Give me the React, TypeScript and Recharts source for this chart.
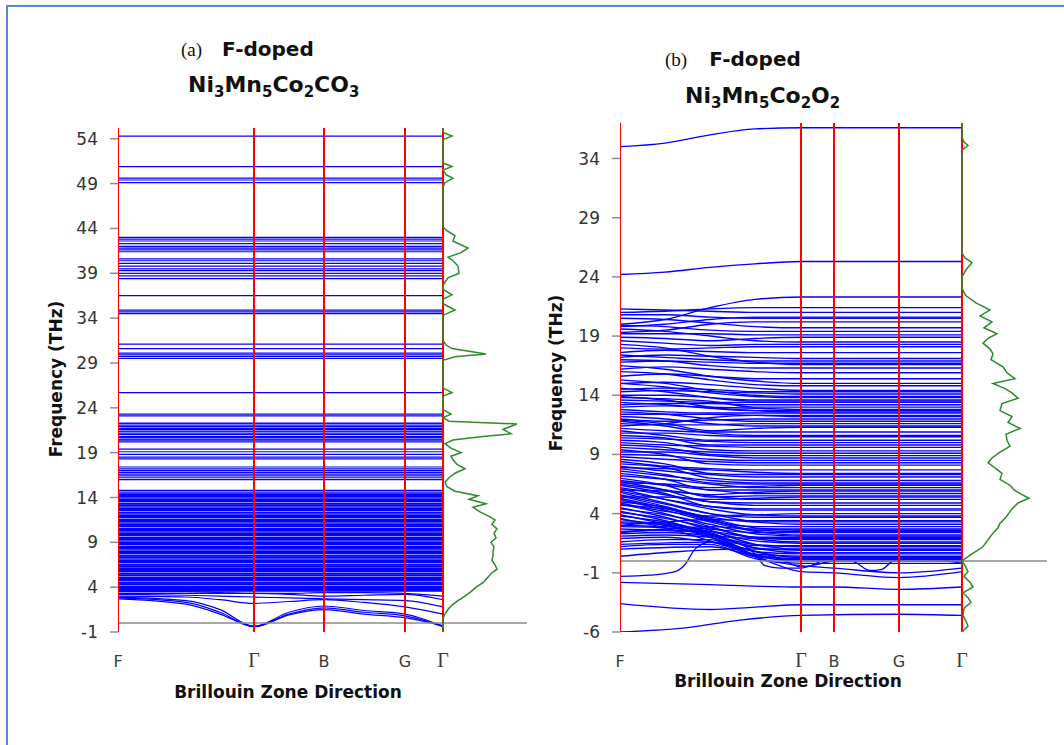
import React from 'react';
import { ComposedChart, Line, XAxis, YAxis } from 'recharts';

// high-symmetry points along the k-path (path distance) and their labels
const kLabels = ['F', 'Γ', 'B', 'G', 'Γ'];
const kNodesA = [0, 136, 206, 287, 325];
const kNodesB = [0, 181, 214, 279, 342];

const yTicksA = [-1, 4, 9, 14, 19, 24, 29, 34, 39, 44, 49, 54];
const yTicksB = [-6, -1, 4, 9, 14, 19, 24, 29, 34];

// ---- panel (a) ----
// nearly dispersionless optical branches (THz)
const flatA = [
  54.3, 50.9, 49.6, 49.4, 49.1, 43.0, 42.8, 42.6, 42.3, 42.0, 41.8, 41.6, 41.4,
  40.6, 40.4, 40.1, 39.8, 39.5, 39.3, 39.0, 38.7, 38.4, 36.5, 34.9, 34.7, 34.5,
  31.1, 30.6, 30.1, 29.9, 29.7, 29.5, 25.7, 23.3, 23.1, 22.3, 22.2, 22.0, 21.9,
  21.7, 21.6, 21.4, 21.3, 21.1, 21.0, 20.8, 20.7, 20.5, 20.4, 20.2, 19.4, 19.1,
  18.8, 18.5, 18.3, 17.4, 17.2, 17.0, 16.8, 16.6, 16.4, 16.2, 16.0, 14.8, 14.6, 14.4,
];
// the packed block between ~3.5 and ~14.3 THz
const denseA = [
  14.3, 14.1, 13.8, 13.6, 13.3, 13.1, 12.8, 12.6, 12.3, 12.0, 11.8, 11.5, 11.3,
  11.0, 10.8, 10.5, 10.3, 10.0, 9.8, 9.5, 9.3, 9.0, 8.8, 8.5, 8.3, 8.0, 7.8, 7.5,
  7.3, 7.0, 6.8, 6.5, 6.3, 6.0, 5.8, 5.5, 5.3, 5.0, 4.8, 4.5, 4.3, 4.0, 3.8, 3.6,
];
// dispersive low branches, sampled at lowPathA
const lowPathA = [0, 68, 102, 136, 171, 206, 246, 287, 325];
const lowBandsA = [
  [2.9, 2.5, 1.5, -0.35, 1.2, 1.9, 1.4, 1.0, -0.35],
  [2.8, 2.3, 1.2, -0.4, 1.0, 1.7, 1.2, 0.8, -0.4],
  [2.7, 2.1, 1.0, -0.4, 0.9, 1.5, 1.0, 0.6, -0.3],
  [3.0, 2.9, 2.6, 2.2, 2.4, 2.6, 2.3, 1.8, 1.0],
  [3.2, 3.1, 3.0, 2.9, 2.8, 2.7, 2.6, 2.5, 1.8],
  [3.3, 3.3, 3.3, 3.3, 3.2, 3.0, 3.1, 3.2, 2.6],
  [3.5, 3.5, 3.4, 3.3, 3.3, 3.4, 3.4, 3.3, 3.0],
];
// density of states: [frequency, DOS]
const dosA = [
  [55.2, 0], [54.7, 0], [54.3, 9], [53.9, 0], [51.3, 0], [50.9, 9], [50.5, 0],
  [50.0, 3], [49.6, 10], [49.1, 2], [48.6, 0], [44.2, 0], [43.8, 3], [43.2, 12],
  [42.6, 10], [41.8, 25], [41.3, 18], [40.8, 5], [40.4, 10], [39.8, 15], [39.0, 16],
  [38.5, 5], [38.0, 2], [37.6, 0], [37.2, 0], [36.6, 9], [36.1, 0], [35.6, 0],
  [34.9, 12], [34.3, 0], [31.5, 0], [31.0, 3], [30.6, 9], [30.0, 43], [29.7, 12],
  [29.3, 0], [26.2, 0], [25.7, 9], [25.3, 0], [23.8, 0], [23.3, 8], [22.9, 0],
  [22.5, 6], [22.2, 74], [21.6, 60], [21.1, 68], [20.8, 40], [20.4, 10], [20.0, 2],
  [19.5, 8], [19.0, 18], [18.6, 8], [18.2, 10], [17.7, 14], [17.2, 22], [16.7, 12],
  [16.2, 6], [15.7, 2], [15.2, 4], [14.7, 12], [14.2, 35], [13.8, 26], [13.3, 43],
  [12.9, 30], [12.4, 37], [11.9, 46], [11.5, 52], [11.0, 49], [10.5, 54], [10.0, 51],
  [9.5, 53], [9.0, 48], [8.5, 51], [8.0, 50], [7.5, 50], [7.0, 49], [6.5, 52],
  [6.0, 54], [5.5, 48], [5.0, 44], [4.5, 40], [4.0, 33], [3.5, 28], [3.0, 22],
  [2.5, 15], [2.0, 9], [1.5, 5], [1.0, 2], [0.5, 0], [-1, 0],
];

// ---- panel (b) ----
// branches sampled at pathB (F .. Γ), flat from Γ to the end
const pathB = [0, 45, 90, 135, 181];
const bandsB = [
  [35.0, 35.3, 36.0, 36.5, 36.6],
  [24.2, 24.4, 24.8, 25.1, 25.3],
  [20.0, 20.4, 21.4, 22.1, 22.3],
  [21.0, 21.1, 21.3, 21.4, 21.4],
  [21.3, 21.2, 21.1, 21.0, 21.0],
  [19.3, 19.5, 20.0, 20.2, 20.2],
  [20.5, 20.4, 20.1, 19.8, 19.7],
  [19.2, 19.2, 19.2, 19.1, 19.1],
  [19.6, 19.4, 19.0, 18.6, 18.5],
  [17.6, 17.8, 17.7, 17.6, 17.6],
  [17.2, 17.4, 17.3, 17.2, 17.1],
  [16.8, 16.9, 16.8, 16.7, 16.7],
  [16.2, 16.4, 16.2, 16.0, 15.9],
  [18.3, 18.0, 17.3, 16.8, 16.6],
  [15.6, 15.8, 15.6, 15.4, 15.4],
  [16.5, 16.2, 15.6, 15.2, 15.0],
  [15.0, 15.1, 14.9, 14.6, 14.4],
  [14.3, 14.4, 14.3, 14.2, 14.1],
  [15.3, 15.0, 14.4, 14.0, 13.9],
  [14.0, 14.0, 13.8, 13.6, 13.6],
  [13.6, 13.5, 13.4, 13.4, 13.4],
  [13.2, 13.3, 13.3, 13.2, 13.2],
  [13.0, 13.1, 13.0, 12.9, 12.8],
  [12.8, 12.6, 12.5, 12.5, 12.5],
  [12.4, 12.4, 12.4, 12.3, 12.3],
  [12.0, 11.8, 11.9, 12.0, 12.0],
  [11.6, 11.5, 11.5, 11.6, 11.6],
  [11.2, 11.0, 10.9, 10.9, 10.9],
  [10.8, 10.8, 10.6, 10.5, 10.5],
  [10.4, 10.3, 10.1, 10.0, 10.0],
  [10.0, 9.8, 9.7, 9.6, 9.6],
  [9.6, 9.4, 9.2, 9.1, 9.1],
  [9.2, 9.2, 8.9, 8.7, 8.7],
  [8.8, 8.6, 8.4, 8.3, 8.3],
  [8.4, 8.0, 7.8, 7.7, 7.7],
  [8.0, 7.6, 7.3, 7.1, 7.1],
  [7.6, 7.2, 6.8, 6.6, 6.6],
  [7.2, 6.9, 6.5, 6.2, 6.2],
  [6.8, 6.4, 6.0, 5.7, 5.7],
  [6.5, 6.0, 5.5, 5.2, 5.2],
  [6.2, 5.6, 5.0, 4.7, 4.7],
  [5.9, 5.2, 4.6, 4.3, 4.3],
  [5.6, 4.8, 4.0, 3.7, 3.7],
  [5.3, 4.5, 3.7, 3.3, 3.3],
  [5.0, 4.5, 3.4, 2.9, 2.9],
  [4.7, 4.4, 3.5, 2.6, 2.5],
  [4.4, 3.9, 3.1, 2.3, 2.1],
  [4.1, 3.6, 2.8, 2.0, 1.8],
  [3.8, 3.3, 2.5, 1.7, 1.5],
  [3.5, 3.0, 2.2, 1.4, 1.2],
  [3.2, 3.1, 2.4, 1.1, 0.9],
  [2.9, 2.8, 2.2, 0.8, 0.6],
  [2.5, 2.6, 2.3, 0.6, 0.4],
  [2.1, 2.2, 2.0, 0.5, 0.2],
  [1.6, 1.8, 1.8, 0.4, 0.0],
  [1.2, 1.4, 1.4, 0.2, -0.2],
  [6.6, 6.5, 6.2, 6.3, 6.4],
  [6.0, 5.9, 5.6, 5.8, 5.9],
  [5.4, 5.4, 5.2, 5.3, 5.4],
  [7.9, 7.8, 7.7, 7.5, 7.4],
  [9.0, 8.9, 8.6, 8.5, 8.5],
  [11.4, 11.6, 12.1, 12.3, 12.2],
  [13.9, 13.6, 13.0, 12.7, 12.6],
  [11.9, 11.6, 11.0, 11.2, 11.3],
  [14.6, 14.3, 13.8, 13.5, 13.5],
  [4.9, 4.2, 3.8, 3.9, 4.0],
  [3.0, 3.3, 3.5, 3.4, 3.4],
  [2.4, 2.7, 2.9, 2.7, 2.7],
  [20.8, 20.8, 20.6, 20.5, 20.5],
  [19.9, 19.8, 19.5, 19.4, 19.4],
  [18.9, 18.8, 18.6, 18.8, 18.9],
  [18.0, 17.9, 18.0, 18.1, 18.1],
  [17.0, 16.9, 16.5, 16.3, 16.3],
  [16.0, 15.8, 15.3, 14.9, 14.8],
  [15.0, 14.7, 14.2, 13.9, 13.8],
  [14.5, 14.6, 14.5, 14.3, 14.3],
  [13.8, 13.7, 13.5, 13.0, 13.0],
  [13.4, 13.2, 12.9, 12.7, 12.7],
  [12.6, 12.4, 12.0, 11.8, 11.8],
  [12.2, 12.0, 11.6, 11.4, 11.4],
  [11.8, 11.4, 10.8, 10.6, 10.6],
  [11.0, 10.6, 10.2, 10.2, 10.2],
  [10.6, 10.4, 9.8, 9.8, 9.8],
  [10.2, 10.0, 9.4, 9.3, 9.3],
  [9.8, 9.6, 9.0, 8.9, 8.9],
  [9.4, 9.0, 8.2, 8.1, 8.1],
  [8.6, 8.2, 7.4, 7.3, 7.3],
  [8.2, 7.9, 7.0, 6.8, 6.8],
  [7.8, 7.3, 6.6, 6.5, 6.5],
  [7.4, 6.9, 6.0, 6.0, 6.0],
  [7.0, 6.4, 5.4, 5.5, 5.5],
  [6.7, 6.0, 5.0, 4.9, 4.9],
  [6.4, 5.7, 4.6, 4.4, 4.4],
  [6.1, 5.2, 4.4, 3.9, 3.8],
  [5.8, 4.9, 4.0, 3.3, 3.1],
  [5.5, 4.6, 3.6, 2.8, 2.6],
  [5.2, 4.3, 3.3, 2.5, 2.2],
  [4.8, 4.0, 2.9, 1.9, 1.6],
  [4.5, 3.7, 2.6, 1.4, 1.0],
  [4.2, 3.4, 2.3, 1.1, 0.7],
  [3.9, 3.1, 2.0, 0.8, 0.3],
  [3.6, 2.8, 1.7, 0.5, 0.1],
  [3.3, 3.2, 2.2, 1.9, 1.9],
  [3.0, 2.9, 2.7, 2.4, 2.4],
  [2.7, 2.6, 2.5, 2.0, 2.0],
  [2.3, 2.4, 2.1, 1.3, 1.3],
  [1.9, 2.0, 1.6, 1.0, 1.0],
  [17.4, 17.2, 17.0, 16.9, 16.9],
  [18.6, 18.4, 18.2, 18.3, 18.3],
  [19.8, 20.0, 20.4, 20.6, 20.6],
];
// branches with structure on the Γ-B-G-Γ side: [path, THz] pairs
const specialB = [
  [[0, -1.3], [30, -1.2], [55, -0.9], [65, -0.3], [75, 1.0], [90, 1.6], [115, 1.5],
   [135, 0.6], [145, -0.4], [160, -0.6], [181, -0.6], [214, 0.3], [235, -0.1],
   [250, -0.8], [262, -0.7], [275, 0.1], [300, 0.2], [342, -0.2]],
  [[0, 0.4], [60, 0.8], [120, 1.0], [160, 0.2], [181, -0.5], [214, 0.0], [279, 0.3], [342, -0.1]],
  [[0, 1.0], [90, 1.2], [140, 0.2], [181, -0.9], [214, -1.0], [279, -1.4], [342, -0.9]],
  [[0, 1.4], [90, 1.6], [150, 0.0], [181, -0.4], [214, -0.6], [279, -1.0], [342, -0.6]],
  [[0, -1.8], [90, -2.0], [181, -2.2], [214, -2.2], [279, -2.4], [342, -2.2]],
  [[0, -3.6], [90, -4.1], [135, -3.9], [181, -3.7], [342, -3.7]],
  [[0, -6.0], [60, -5.7], [120, -5.0], [181, -4.6], [279, -4.5], [342, -4.6]],
];
const dosB = [
  [37, 0], [35.8, 0], [35.4, 2], [35.1, 6], [34.7, 0], [26.0, 0], [25.6, 3],
  [25.2, 10], [24.6, 4], [24.0, 0], [23.0, 0], [22.4, 4], [21.8, 14], [21.2, 28],
  [20.7, 18], [20.2, 30], [19.7, 22], [19.2, 35], [18.8, 26], [18.4, 21], [17.9, 28],
  [17.5, 31], [17.0, 29], [16.4, 41], [15.9, 45], [15.4, 53], [15.0, 31], [14.6, 42],
  [14.2, 50], [13.75, 56], [13.3, 40], [12.7, 38], [12.2, 50], [11.7, 46], [11.2, 58],
  [10.7, 44], [10.2, 45], [9.7, 48], [9.2, 38], [8.7, 30], [8.3, 26], [7.8, 34],
  [7.4, 40], [6.9, 38], [6.4, 48], [6.0, 52], [5.6, 60], [5.3, 67], [4.9, 56],
  [4.4, 50], [3.7, 44], [3.2, 38], [2.8, 36], [2.35, 31], [1.8, 26], [1.2, 21],
  [0.6, 10], [0, 0], [-0.4, 3], [-0.9, 6], [-1.3, 2], [-1.8, 8], [-2.2, 11],
  [-2.7, 1], [-3.1, 6], [-3.5, 9], [-4.0, 2], [-4.6, 1], [-5.1, 4], [-5.5, 6], [-6.0, 0],
];

type Pt = { x: number; y: number };
type Band = { pts: Pt[]; width: number };

const font = "'DejaVu Sans', Verdana, sans-serif";

function makeTick(nodes: number[]) {
  return (props: any) => {
    const { x, y, payload } = props;
    const i = nodes.indexOf(payload.value);
    const lab = kLabels[i] ?? '';
    const serif = lab === 'Γ';
    return (
      <text
        x={x}
        y={y + 27}
        textAnchor="middle"
        fontFamily={serif ? "'Liberation Serif', serif" : font}
        fontSize={serif ? 20 : 16}
        fill="#3a3a3a"
      >
        {lab}
      </text>
    );
  };
}

interface PanelProps {
  left: number;
  top: number;
  width: number;
  height: number;
  margin: { top: number; right: number; bottom: number; left: number };
  xMax: number;
  yDomain: [number, number];
  yTicks: number[];
  nodes: number[];
  bands: Band[];
  dos: number[][];
}

function Panel(p: PanelProps) {
  const end = p.nodes[p.nodes.length - 1];
  const dosPts = p.dos.map(([f, d]) => ({ x: end + d, y: f }));
  return (
    <div style={{ position: 'absolute', left: p.left, top: p.top }}>
      <ComposedChart width={p.width} height={p.height} margin={p.margin}>
        <XAxis
          type="number"
          dataKey="x"
          domain={[0, p.xMax]}
          ticks={p.nodes}
          interval={0}
          allowDataOverflow
          axisLine={false}
          tickLine={false}
          height={30}
          tick={makeTick(p.nodes)}
        />
        <YAxis
          type="number"
          dataKey="y"
          domain={p.yDomain}
          ticks={p.yTicks}
          interval={0}
          allowDataOverflow
          axisLine={false}
          tickLine={{ stroke: '#8c8c8c', strokeWidth: 1.5 }}
          tickSize={8}
          tickMargin={12}
          width={50}
          tick={{ fontSize: 17, fill: '#333', fontFamily: font }}
        />
        {p.bands.map((b, i) => (
          <Line
            key={'b' + i}
            data={b.pts}
            dataKey="y"
            type="monotone"
            stroke="#0000ff"
            strokeWidth={b.width}
            dot={false}
            activeDot={false}
            isAnimationActive={false}
          />
        ))}
        <Line
          data={[{ x: 0, y: 0 }, { x: p.xMax, y: 0 }]}
          dataKey="y"
          stroke="#8a8a8a"
          strokeWidth={1.5}
          dot={false}
          activeDot={false}
          isAnimationActive={false}
        />
        {p.nodes.map((n, i) => (
          <Line
            key={'k' + i}
            data={[{ x: n, y: p.yDomain[0] }, { x: n, y: p.yDomain[1] }]}
            dataKey="y"
            stroke="#ff0000"
            strokeWidth={2}
            dot={false}
            activeDot={false}
            isAnimationActive={false}
          />
        ))}
        <Line
          data={dosPts}
          dataKey="y"
          type="linear"
          stroke="#2b8a2b"
          strokeWidth={1.5}
          dot={false}
          activeDot={false}
          isAnimationActive={false}
        />
      </ComposedChart>
    </div>
  );
}

const endA = kNodesA[kNodesA.length - 1];
const endB = kNodesB[kNodesB.length - 1];

const bandsA: Band[] = [
  ...flatA.map((v) => ({ pts: [{ x: 0, y: v }, { x: endA, y: v }], width: 1.2 })),
  ...denseA.map((v) => ({ pts: [{ x: 0, y: v }, { x: endA, y: v }], width: 2.2 })),
  ...lowBandsA.map((vals) => ({ pts: vals.map((v, i) => ({ x: lowPathA[i], y: v })), width: 1.2 })),
];

const bandsBAll: Band[] = [
  ...bandsB.map((vals) => ({
    pts: [...vals.map((v, i) => ({ x: pathB[i], y: v })), { x: endB, y: vals[vals.length - 1] }],
    width: 1.4,
  })),
  ...specialB.map((pairs) => ({ pts: pairs.map(([x, y]) => ({ x, y })), width: 1.3 })),
];

const titleStyle: React.CSSProperties = {
  position: 'absolute',
  fontFamily: font,
  fontWeight: 'bold',
  color: '#111',
  whiteSpace: 'nowrap',
};

function Formula({ parts }: { parts: [string, string][] }) {
  return (
    <>
      {parts.map(([el, n], i) => (
        <span key={i}>
          {el}
          {n && <sub style={{ fontSize: 15, verticalAlign: -5 }}>{n}</sub>}
        </span>
      ))}
    </>
  );
}

function YTitle({ cx, cy }: { cx: number; cy: number }) {
  return (
    <div
      style={{
        ...titleStyle,
        fontSize: 17,
        width: 200,
        left: cx - 100,
        top: cy - 11,
        height: 22,
        lineHeight: '22px',
        textAlign: 'center',
        transform: 'rotate(-90deg)',
      }}
    >
      Frequency (THz)
    </div>
  );
}

function XTitle({ cx, cy }: { cx: number; cy: number }) {
  return (
    <div
      style={{
        ...titleStyle,
        fontSize: 17,
        width: 300,
        left: cx - 150,
        top: cy - 8,
        height: 17,
        lineHeight: '17px',
        textAlign: 'center',
      }}
    >
      Brillouin Zone Direction
    </div>
  );
}

export default function App() {
  return (
    <div
      style={{
        position: 'absolute',
        left: 0,
        top: 0,
        width: 1064,
        height: 745,
        overflow: 'hidden',
        background: '#fff',
      }}
    >
      <div
        style={{
          position: 'absolute',
          left: 6,
          top: 5,
          width: 1100,
          height: 800,
          border: '2px solid #5a86d6',
        }}
      />
      <Panel
        left={40}
        top={110}
        width={500}
        height={600}
        margin={{ top: 18, right: 13, bottom: 48, left: 28 }}
        xMax={409}
        yDomain={[-1, 55.2]}
        yTicks={yTicksA}
        nodes={kNodesA}
        bands={bandsA}
        dos={dosA}
      />
      <Panel
        left={540}
        top={100}
        width={520}
        height={620}
        margin={{ top: 23, right: 13, bottom: 58, left: 30 }}
        xMax={427}
        yDomain={[-6, 37]}
        yTicks={yTicksB}
        nodes={kNodesB}
        bands={bandsBAll}
        dos={dosB}
      />

      <div style={{ ...titleStyle, left: 181, top: 37, fontSize: 20, lineHeight: '24px' }}>
        <span style={{ fontFamily: "'Liberation Serif', serif", fontWeight: 'normal', fontSize: 19 }}>(a)</span>
        <span style={{ marginLeft: 20 }}>F-doped</span>
      </div>
      <div style={{ ...titleStyle, left: 188, top: 72, fontSize: 22, lineHeight: '26px' }}>
        <Formula parts={[['Ni', '3'], ['Mn', '5'], ['Co', '2'], ['CO', '3']]} />
      </div>

      <div style={{ ...titleStyle, left: 665, top: 47, fontSize: 20, lineHeight: '24px' }}>
        <span style={{ fontFamily: "'Liberation Serif', serif", fontWeight: 'normal', fontSize: 19 }}>(b)</span>
        <span style={{ marginLeft: 22 }}>F-doped</span>
      </div>
      <div style={{ ...titleStyle, left: 685, top: 83, fontSize: 22, lineHeight: '26px' }}>
        <Formula parts={[['Ni', '3'], ['Mn', '5'], ['Co', '2'], ['O', '2']]} />
      </div>

      <YTitle cx={56} cy={379} />
      <YTitle cx={556} cy={373} />
      <XTitle cx={288} cy={692} />
      <XTitle cx={788} cy={681} />
    </div>
  );
}
